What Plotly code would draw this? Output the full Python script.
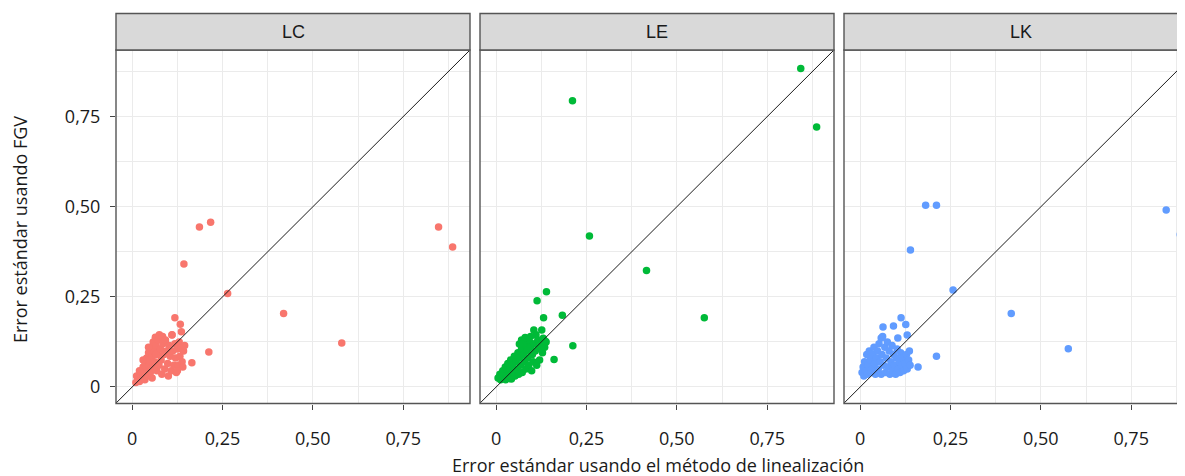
import plotly.graph_objects as go

# ---------------- data ----------------
panels = ["LC", "LE", "LK"]
colors = ["#F8766D", "#00BA38", "#619CFF"]

tick_vals = [0, 0.25, 0.5, 0.75]
tick_text = ["0", "0,25", "0,50", "0,75"]
minor_vals = [0.125, 0.375, 0.625, 0.875]

# LC: cluster + outliers
lc_x = [0.010, 0.015, 0.012, 0.020, 0.022, 0.025, 0.028, 0.030, 0.032, 0.035, 0.036, 0.038, 0.040, 0.042,
        0.045, 0.046, 0.048, 0.050, 0.052, 0.054, 0.055, 0.058, 0.060, 0.060, 0.062, 0.064, 0.066, 0.068,
        0.070, 0.072, 0.074, 0.075, 0.078, 0.080, 0.082, 0.084, 0.085, 0.088, 0.090, 0.092, 0.095, 0.098,
        0.100, 0.102, 0.105, 0.108, 0.110, 0.112, 0.115, 0.118, 0.120, 0.122, 0.125, 0.128, 0.130, 0.132,
        0.136, 0.138, 0.142, 0.145, 0.140, 0.125, 0.020, 0.030, 0.045, 0.065,
        0.186, 0.217, 0.848, 0.887, 0.143, 0.264, 0.419, 0.580, 0.212, 0.165, 0.118, 0.133, 0.136, 0.110]
lc_y = [0.012, 0.020, 0.030, 0.015, 0.035, 0.045, 0.025, 0.055, 0.040, 0.020, 0.065, 0.050, 0.080, 0.030,
        0.095, 0.060, 0.072, 0.040, 0.110, 0.085, 0.025, 0.125, 0.100, 0.055, 0.070, 0.138, 0.115, 0.045,
        0.090, 0.130, 0.060, 0.145, 0.105, 0.075, 0.035, 0.140, 0.120, 0.090, 0.050, 0.130, 0.100, 0.065,
        0.030, 0.115, 0.085, 0.045, 0.145, 0.100, 0.060, 0.120, 0.080, 0.040, 0.105, 0.060, 0.125, 0.085,
        0.110, 0.070, 0.100, 0.115, 0.055, 0.045, 0.045, 0.075, 0.110, 0.090,
        0.444, 0.457, 0.444, 0.388, 0.341, 0.259, 0.204, 0.122, 0.097, 0.067, 0.192, 0.174, 0.153, 0.144]

# LE: cluster + outliers
le_x = [0.005, 0.010, 0.012, 0.018, 0.020, 0.025, 0.026, 0.030, 0.032, 0.035, 0.038, 0.040, 0.042, 0.045,
        0.048, 0.050, 0.052, 0.055, 0.058, 0.060, 0.062, 0.065, 0.068, 0.070, 0.072, 0.075, 0.078, 0.080,
        0.082, 0.085, 0.088, 0.090, 0.092, 0.095, 0.098, 0.100, 0.102, 0.105, 0.108, 0.112, 0.115, 0.118,
        0.120, 0.124, 0.128, 0.130, 0.134, 0.138, 0.070, 0.075, 0.104, 0.126, 0.095, 0.110, 0.015, 0.028,
        0.211, 0.843, 0.887, 0.258, 0.416, 0.576, 0.139, 0.113, 0.183, 0.131, 0.212, 0.160, 0.136, 0.080, 0.064]
le_y = [0.025, 0.035, 0.020, 0.045, 0.028, 0.055, 0.020, 0.040, 0.065, 0.030, 0.050, 0.075, 0.022, 0.060,
        0.040, 0.085, 0.030, 0.070, 0.050, 0.095, 0.035, 0.080, 0.060, 0.105, 0.040, 0.090, 0.070, 0.118,
        0.050, 0.100, 0.080, 0.060, 0.125, 0.110, 0.045, 0.090, 0.070, 0.120, 0.100, 0.060, 0.130, 0.108,
        0.075, 0.118, 0.095, 0.135, 0.110, 0.125, 0.130, 0.122, 0.158, 0.158, 0.140, 0.145, 0.030, 0.030,
        0.794, 0.884, 0.721, 0.419, 0.323, 0.192, 0.264, 0.239, 0.199, 0.192, 0.114, 0.076, 0.127, 0.137, 0.119]

# LK: cluster + outliers
lk_x = [0.005, 0.008, 0.010, 0.012, 0.015, 0.018, 0.020, 0.022, 0.025, 0.028, 0.030, 0.032, 0.035, 0.038,
        0.040, 0.042, 0.045, 0.048, 0.050, 0.052, 0.055, 0.058, 0.060, 0.062, 0.065, 0.068, 0.070, 0.072,
        0.075, 0.078, 0.080, 0.082, 0.085, 0.088, 0.090, 0.092, 0.095, 0.098, 0.100, 0.102, 0.105, 0.108,
        0.110, 0.112, 0.115, 0.118, 0.120, 0.124, 0.128, 0.130, 0.134, 0.136, 0.138, 0.058, 0.104, 0.130,
        0.063, 0.092, 0.113, 0.126,
        0.181, 0.211, 0.847, 0.886, 0.139, 0.257, 0.418, 0.576, 0.211, 0.160]
lk_y = [0.040, 0.055, 0.030, 0.070, 0.045, 0.090, 0.035, 0.060, 0.100, 0.075, 0.040, 0.050, 0.090, 0.110,
        0.065, 0.035, 0.080, 0.100, 0.050, 0.120, 0.070, 0.035, 0.090, 0.140, 0.060, 0.110, 0.040, 0.080,
        0.125, 0.055, 0.100, 0.035, 0.070, 0.115, 0.045, 0.090, 0.060, 0.035, 0.080, 0.105, 0.050, 0.070,
        0.040, 0.095, 0.060, 0.080, 0.045, 0.065, 0.090, 0.050, 0.075, 0.100, 0.060, 0.136, 0.136, 0.144,
        0.166, 0.169, 0.192, 0.173,
        0.504, 0.504, 0.491, 0.423, 0.380, 0.269, 0.204, 0.106, 0.085, 0.055]

identity_line = [-0.1, 1.0]

x_title = "Error estándar usando el método de linealización"
y_title = "Error estándar usando FGV"

# ---------------- layout geometry ----------------
OFF = 8                       # default page body margin
W, H = 1185 - OFF, 476 - OFF  # figure size (page coords minus body margin)
px_per_unit = 361.2
panel_left = [116 - OFF, 480 - OFF, 844 - OFF]
panel_w = 354
panel_top, panel_bot = 50 - OFF, 403.5 - OFF
strip_top = 13.5 - OFF
x_min = -0.045
y_range = [-0.046, 0.935]

def px(v):
    return v / W

def py(v):
    return 1 - v / H

series = [(lc_x, lc_y), (le_x, le_y), (lk_x, lk_y)]

fig = go.Figure()
layout = dict(
    width=W, height=H,
    margin=dict(l=0, r=0, t=0, b=0),
    paper_bgcolor="white", plot_bgcolor="white",
    showlegend=False,
    font=dict(family="Open Sans", color="#1A1A1A"),
)

shapes = []
annotations = []
grid_col = "#EBEBEB"
border_col = "#555555"
tick_font = dict(family="Open Sans", size=18, color="#1A1A1A")

for i, name in enumerate(panels):
    xs, ys = series[i]
    suffix = "" if i == 0 else str(i + 1)
    xa = "x" + suffix
    ya = "y" + suffix
    left = panel_left[i]
    right = left + panel_w
    dom_right = min(right, W)
    x_max = x_min + (dom_right - left) / px_per_unit

    fig.add_trace(go.Scatter(
        x=xs, y=ys, mode="markers", xaxis=xa, yaxis=ya,
        marker=dict(color=colors[i], size=7.5, line=dict(width=0)),
        hoverinfo="x+y", cliponaxis=True,
    ))
    fig.add_trace(go.Scatter(
        x=identity_line, y=identity_line, mode="lines", xaxis=xa, yaxis=ya,
        line=dict(color="#1A1A1A", width=1), hoverinfo="skip",
    ))

    layout["xaxis" + suffix] = dict(
        domain=[px(left), px(dom_right)], anchor=ya, range=[x_min, x_max],
        tickvals=tick_vals, ticktext=tick_text, ticks="outside", ticklen=5,
        tickcolor="#444444", tickwidth=1,
        tickfont=tick_font,
        ticklabelstandoff=14,
        showgrid=True, gridcolor=grid_col, gridwidth=1.2,
        minor=dict(tickvals=minor_vals, showgrid=True, gridcolor=grid_col, gridwidth=1, ticks=""),
        zeroline=False, showline=False, fixedrange=True,
    )
    layout["yaxis" + suffix] = dict(
        domain=[py(panel_bot), py(panel_top)], anchor=xa, range=y_range,
        tickvals=tick_vals, ticktext=tick_text,
        ticks="outside" if i == 0 else "", ticklen=5,
        tickcolor="#444444", tickwidth=1,
        showticklabels=(i == 0),
        tickfont=tick_font,
        ticklabelstandoff=6,
        showgrid=True, gridcolor=grid_col, gridwidth=1.2,
        minor=dict(tickvals=minor_vals, showgrid=True, gridcolor=grid_col, gridwidth=1, ticks=""),
        zeroline=False, showline=False, fixedrange=True,
    )

    # panel border
    shapes.append(dict(type="rect", xref="paper", yref="paper",
                       x0=px(left), x1=px(right), y0=py(panel_bot), y1=py(panel_top),
                       line=dict(color=border_col, width=1.4), fillcolor="rgba(0,0,0,0)",
                       layer="above"))
    # strip
    shapes.append(dict(type="rect", xref="paper", yref="paper",
                       x0=px(left), x1=px(right), y0=py(panel_top), y1=py(strip_top),
                       line=dict(color=border_col, width=1.4), fillcolor="#D9D9D9",
                       layer="above"))
    annotations.append(dict(text=name, xref="paper", yref="paper",
                            x=px((left + right) / 2),
                            y=py((strip_top + panel_top) / 2),
                            showarrow=False, xanchor="center", yanchor="middle",
                            font=dict(family="Liberation Sans", size=18, color="#1A1A1A")))

annotations.append(dict(text=x_title, xref="paper", yref="paper", x=px(658 - OFF), y=py(465 - OFF),
                        showarrow=False, xanchor="center", yanchor="middle",
                        font=dict(family="Open Sans", size=18, color="#1A1A1A")))
annotations.append(dict(text=y_title, xref="paper", yref="paper", x=px(20 - OFF), y=py(230 - OFF),
                        showarrow=False, xanchor="center", yanchor="middle", textangle=-90,
                        font=dict(family="Open Sans", size=18, color="#1A1A1A")))

layout["shapes"] = shapes
layout["annotations"] = annotations
fig.update_layout(**layout)

fig.write_html("out.html")
